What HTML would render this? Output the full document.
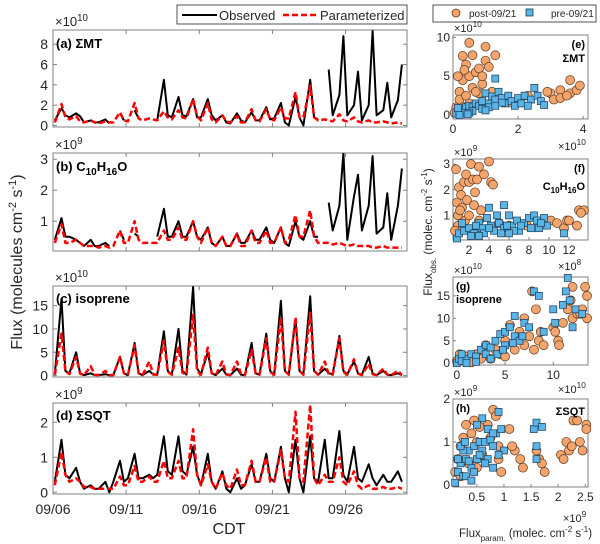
<!DOCTYPE html>
<html><head><meta charset="utf-8"><style>
html,body{margin:0;padding:0;background:#fff;width:600px;height:544px;overflow:hidden}
svg{display:block;font-family:"Liberation Sans",Arial,sans-serif}
</style></head><body>
<svg id="chart" width="600" height="544" viewBox="0 0 600 544"></svg>
<script>
// ---------- DATA ----------
const dayLabels = ["09/06","09/11","09/16","09/21","09/26"];
const dayTicks = [0,5,10,15,20];
const sampleFrac = [0.12,0.58,0.85];
// per day: [night, midday, evening]
const mtObs = [[0.5,1.7,1.0],[0.8,1.2,0.9],[0.3,0.5,0.3],[0.3,0.6,0.2],[null,1.2,0.5],[null,1.5,0.7],[null,null,null],[0.5,4.5,1.0],[0.8,2.8,1.0],[0.9,2.6,0.8],[0.8,2.6,1.0],[0.5,1.0,0.3],[0.2,1.2,0.5],[0.3,1.3,0.5],[0.5,1.8,0.6],[0.7,2.2,0.3],[0.0,2.8,0.8],[0.0,4.5,0.8],[0.6,null,5.5],[1.0,3.0,8.8],[1.0,2.0,5.3],[0.5,2.0,9.3],[1.0,1.5,4.2],[0.8,2.5,6.0]];
const mtPar = [[0.3,2.1,0.8],[0.6,0.9,0.4],[0.3,0.5,0.3],[0.2,0.4,0.3],[0.3,1.3,0.5],[0.4,2.2,0.7],[0.5,0.7,0.6],[0.5,1.4,0.8],[0.6,1.5,0.8],[0.7,2.6,0.9],[0.5,2.2,0.6],[0.3,1.0,0.4],[0.3,0.9,0.3],[0.3,1.6,0.5],[0.4,1.6,0.6],[0.5,1.8,0.7],[0.7,3.3,0.8],[0.8,3.9,0.8],[0.5,0.6,0.5],[0.4,1.1,0.5],[0.4,0.8,0.4],[0.3,0.5,0.3],[0.3,0.4,0.3],[0.2,0.3,0.2]];
const cObs = [[0.4,1.1,0.5],[0.5,0.4,0.3],[0.2,0.4,0.2],[0.2,0.3,0.2],[null,0.7,0.4],[null,0.6,0.5],[null,null,null],[0.5,1.4,0.5],[0.5,1.0,0.5],[0.5,1.0,0.5],[0.4,0.8,0.3],[0.2,0.5,0.2],[0.2,0.6,0.3],[0.3,0.7,0.4],[0.4,0.8,0.4],[0.3,0.8,0.3],[0.2,1.0,0.5],[0.4,1.0,0.5],[0.5,null,1.6],[0.7,1.5,3.2],[0.4,1.8,2.5],[0.7,1.5,3.1],[0.6,0.8,1.9],[0.4,1.5,2.7]];
const cPar = [[0.3,0.9,0.3],[0.3,0.4,0.3],[0.2,0.2,0.2],[0.15,0.2,0.15],[0.2,0.7,0.3],[0.3,1.0,0.4],[0.3,0.3,0.3],[0.3,0.7,0.4],[0.4,0.8,0.4],[0.4,1.0,0.5],[0.3,0.8,0.3],[0.2,0.5,0.2],[0.2,0.6,0.2],[0.2,0.7,0.3],[0.3,0.7,0.3],[0.3,0.8,0.3],[0.4,1.2,0.5],[0.5,1.35,0.5],[0.3,0.3,0.3],[0.25,0.3,0.25],[0.2,0.25,0.2],[0.2,0.2,0.15],[0.15,0.2,0.15],[0.15,0.15,0.15]];
const isoObs = [[0.2,16.5,1.0],[0.5,5.0,0.5],[0.1,0.5,0.1],[0.1,0.3,0.1],[0.1,4.0,0.5],[0.1,7.0,0.5],[0.1,1.0,0.2],[0.2,9.5,1.0],[0.2,10.0,1.0],[0.2,19.0,1.5],[0.3,5.0,0.5],[0.1,1.5,0.2],[0.1,1.5,0.2],[0.1,7.0,0.5],[0.2,9.0,1.0],[0.2,16.0,1.0],[0.2,12.0,1.0],[0.3,17.0,1.0],[0.2,1.5,0.5],[0.3,8.5,1.0],[0.3,3.0,0.5],[0.2,4.0,0.5],[0.1,1.0,0.2],[0.1,0.5,0.1]];
const isoPar = [[0.2,9.0,1.0],[0.3,4.0,0.4],[0.1,2.0,0.2],[0.1,1.0,0.1],[0.1,4.0,0.5],[0.1,6.5,0.5],[0.1,3.0,0.3],[0.2,7.5,0.8],[0.2,6.0,0.6],[0.2,13.0,1.0],[0.2,6.0,0.5],[0.1,3.0,0.3],[0.1,3.0,0.3],[0.1,5.5,0.5],[0.2,8.0,0.8],[0.2,12.5,1.0],[0.2,12.5,1.0],[0.2,13.5,1.0],[0.2,3.0,0.3],[0.2,8.0,0.8],[0.2,3.5,0.4],[0.1,2.5,0.3],[0.1,1.5,0.2],[0.1,1.0,0.1]];
const sqtObs = [[0.3,1.5,0.5],[0.4,0.7,0.3],[0.1,0.2,0.1],[0.1,0.3,0.0],[0.3,0.9,0.3],[0.4,1.1,0.4],[0.4,0.5,0.4],[0.5,1.6,0.6],[0.5,1.6,0.6],[0.5,1.3,0.5],[0.2,1.1,0.3],[0.1,0.6,0.1],[0.0,0.4,0.1],[0.2,0.8,0.3],[0.3,1.1,0.4],[0.3,1.3,0.4],[0.0,1.5,0.4],[0.0,1.6,0.4],[0.3,1.5,0.4],[0.4,1.75,0.5],[0.3,1.3,0.4],[0.3,0.8,0.4],[0.2,0.5,0.3],[0.3,0.6,0.3]];
const sqtPar = [[0.2,1.15,0.5],[0.3,0.4,0.3],[0.15,0.15,0.1],[0.1,0.1,0.1],[0.1,0.45,0.2],[0.2,0.75,0.3],[0.3,0.45,0.3],[0.3,0.9,0.4],[0.4,0.9,0.4],[0.4,1.8,0.5],[0.2,0.8,0.3],[0.1,0.55,0.2],[0.1,0.65,0.2],[0.2,0.9,0.3],[0.3,1.0,0.3],[0.3,1.2,0.4],[0.3,2.3,0.4],[0.3,2.5,0.4],[0.2,0.5,0.3],[0.3,1.0,0.3],[0.2,0.6,0.2],[0.1,0.2,0.1],[0.1,0.15,0.1],[0.1,0.15,0.1]];

const ePost = [[0.1,1],[0.2,3],[0.3,4.5],[0.3,7.6],[0.4,6.5],[0.5,9.3],[0.5,5],[0.6,7.7],[0.7,5.5],[0.8,6],[0.9,4],[1.0,8.8],[1.0,7],[1.1,6.2],[1.3,7.7],[0.2,2],[0.4,2.5],[0.6,3.5],[0.8,2.8],[0.15,5],[0.35,5.8],[0.7,3],[0.9,5],[1.2,3],[0.5,1.5],[0.3,1],[1.5,2],[2.3,2.5],[3.0,2.8],[3.1,2],[3.3,3.2],[3.3,2.2],[3.6,4.5],[3.6,2.8],[3.8,3.2],[3.9,3.8],[3.5,2.5],[2.9,3],[0.05,0.3],[1.8,1.6]];
const ePre = [[0.1,0.2],[0.2,0.5],[0.3,0.8],[0.4,1],[0.5,1.2],[0.6,1],[0.7,1.5],[0.8,1.2],[0.9,1.8],[1.0,2.8],[1.1,1.5],[1.2,2.4],[1.3,4.7],[1.3,2],[1.4,3],[1.5,2.2],[1.6,1.5],[1.7,2.5],[1.8,1.8],[2.0,2.2],[2.2,2.5],[2.4,2],[2.5,3.5],[2.6,2.5],[2.7,1.8],[2.8,1.3],[0.3,0.3],[0.6,0.5],[1.1,1],[1.5,1.6],[1.9,1.2],[0.2,0],[0.5,0.3],[0.9,0.8],[1.3,1.2],[2.1,1.5],[2.3,1.2],[1.0,0.6],[0.15,0.9],[0.45,0.1]];
const fPost = [[0.7,2.8],[0.8,1.5],[0.9,1.0],[1.0,2.1],[1.2,1.8],[1.3,1.3],[1.5,2.3],[1.6,0.8],[1.8,1.6],[2.0,2.3],[2.2,3.0],[2.4,2.4],[2.6,1.9],[2.8,2.4],[3.0,2.9],[3.2,1.2],[3.5,2.6],[4.0,3.1],[4.2,2.3],[4.4,2.2],[0.9,0.6],[1.4,0.5],[2.0,1.0],[2.5,1.4],[1.1,1.2],[0.6,0.4],[3.0,0.8],[5.0,0.7],[6.0,0.6],[7.8,0.6],[10.2,0.8],[10.8,0.7],[11.5,0.5],[11.8,0.8],[12.0,0.8],[12.8,0.6],[13.0,1.2],[13.5,1.2],[13.2,1.1],[1.7,2.6]];
const fPre = [[0.8,0.1],[1.0,0.3],[1.5,0.4],[2.0,0.5],[2.5,0.3],[3.0,0.7],[3.3,0.5],[3.8,0.9],[4.0,1.3],[4.2,0.6],[4.5,0.4],[5.0,0.7],[5.5,1.4],[5.5,0.5],[6.0,1.0],[6.3,0.6],[6.8,0.8],[7.0,0.4],[7.5,0.7],[8.0,0.9],[8.5,1.0],[8.8,0.8],[9.0,0.5],[9.5,0.9],[9.8,0.6],[9.2,0.7],[11.5,0.3],[2.2,0.2],[3.5,0.3],[5.2,0.3],[6.5,0.4],[1.3,0.7],[2.7,0.6],[4.8,1.0],[7.2,0.6],[8.2,0.5],[6.0,0.3],[3.0,0.2],[5.8,0.6],[4.0,0.5]];
const gPost = [[0,0.5],[0.5,1],[1,1.5],[2,2],[3,4],[4,3],[4.5,2],[5,5],[5.5,8.5],[6,3],[7,10],[7.5,6],[7.8,16],[8.2,12],[8.5,5],[8.7,7],[9,4],[10,8],[10.2,7],[10.5,5],[10.6,4],[11,9],[11.5,12],[12,10],[12,17],[12.5,11],[12.8,11],[13.3,17],[13.5,15],[13.5,10],[13,12],[6.5,7],[2.5,1],[1.5,0.2],[8,3],[11.8,14],[0.3,2],[3.5,1],[5,1.5],[7,4]];
const gPre = [[0,0],[0.2,1],[0.5,0.5],[1,1],[1.5,2],[2,1.5],[2.5,3],[3,2],[3,4],[3.5,3.5],[4,5],[4.2,2],[4.5,6.5],[5,4],[5,7],[5.5,8],[6,6],[6,10.5],[6.5,5],[7,9],[7.5,8],[8,16],[8.5,15],[9,7],[10,12],[10.2,9],[11,13],[11.3,16],[11.5,19],[11.7,14],[12,8],[12.3,12],[13,11],[3.5,1],[2,0.3],[4.8,3],[5.8,4.5],[6.8,6],[1,0],[0.5,2]];
const hPost = [[0.1,0.3],[0.15,0.6],[0.2,0.9],[0.25,1.1],[0.3,1.4],[0.35,0.5],[0.4,1.2],[0.45,1.5],[0.5,1.0],[0.55,1.35],[0.6,0.7],[0.7,1.4],[0.75,1.1],[0.8,1.75],[0.85,1.6],[0.9,0.6],[0.95,0.3],[1.1,1.3],[1.2,0.8],[1.3,0.6],[1.35,0.4],[1.6,0.8],[1.65,0.6],[1.7,0.5],[1.75,0.3],[2.05,0.7],[2.1,0.6],[2.15,1.0],[2.2,0.8],[2.25,0.9],[2.28,1.5],[2.35,1.5],[2.4,1.0],[2.45,0.8],[2.52,1.4],[2.52,1.3],[0.2,0.2],[0.5,0.4],[0.9,0.9],[1.15,0.9]];
const hPre = [[0.1,0.05],[0.15,0.3],[0.2,0.5],[0.25,0.2],[0.3,0.6],[0.35,0.8],[0.4,0.4],[0.45,0.9],[0.5,0.6],[0.55,1.0],[0.6,0.8],[0.65,1.0],[0.7,0.6],[0.75,1.05],[0.8,0.9],[0.85,1.2],[0.9,1.7],[0.95,1.3],[1.0,0.8],[0.6,1.55],[0.5,1.4],[0.3,0.2],[0.4,0.1],[0.25,0.8],[0.2,0.9],[1.55,1.3],[1.6,1.45],[1.7,1.35],[1.6,0.9],[1.6,0.6],[0.35,0.55],[0.45,0.3],[0.65,0.5],[0.8,0.4],[0.9,0.7],[0.15,0.6],[0.7,1.3],[0.55,0.7],[0.28,1.0],[0.8,1.2]];

// ---------- DRAW ----------
const NS="http://www.w3.org/2000/svg";
const svg=document.getElementById('chart');
function mk(tag,attrs,parent){const e=document.createElementNS(NS,tag);for(const k in attrs)e.setAttribute(k,attrs[k]);(parent||svg).appendChild(e);return e;}
function txt(x,y,s,size,anchor,parent,weight){const t=mk('text',{x:x,y:y,'font-size':size,'text-anchor':anchor||'middle',fill:'#262626'},parent);if(weight)t.setAttribute('font-weight',weight);t.textContent=s;return t;}

function axesBox(name,x0,x1,y0,y1){
  const g=mk('g',{});
  
  
  mk('rect',{x:x0,y:y0,width:x1-x0,height:y1-y0,fill:'#fff',stroke:'#808080','stroke-width':1},g);
  return g;
}
function expo(x,y,base,exp,g,size){
  const t=mk('text',{x:x,y:y,'font-size':size,fill:'#262626'},g);
  
  
  t.textContent='\u00d7'+base;
  const sp=mk('tspan',{dy:-5,'font-size':size*0.75},t);sp.textContent=exp;
}

const LX0=53,LX1=407,TD=24.2;
const sx=d=>LX0+(d/TD)*(LX1-LX0);
const panels=[
 {id:'a',name:'sum-mt',y0:30,y1:127,min:-0.15,max:9.4,ticks:[0,2,4,6,8],obs:mtObs,par:mtPar,exp:'10'},
 {id:'b',name:'c10h16o',y0:153,y1:251,min:0.04,max:3.2,ticks:[1,2,3],obs:cObs,par:cPar,exp:'9'},
 {id:'c',name:'isoprene',y0:286,y1:377,min:-0.3,max:19.2,ticks:[0,5,10,15],obs:isoObs,par:isoPar,exp:'10'},
 {id:'d',name:'sum-sqt',y0:403,y1:494,min:-0.05,max:2.55,ticks:[0,1,2],obs:sqtObs,par:sqtPar,exp:'9'}
];
panels.forEach(p=>{
  const g=axesBox('timeseries-panel-'+p.id,LX0,LX1,p.y0,p.y1);
  const sy=v=>p.y1-(v-p.min)/(p.max-p.min)*(p.y1-p.y0);
  const clip=mk('clipPath',{id:'clip'+p.id},g);
  mk('rect',{x:LX0,y:p.y0,width:LX1-LX0,height:p.y1-p.y0},clip);
  p.ticks.forEach(v=>{const y=sy(v);
    mk('line',{x1:LX0,x2:LX0+4,y1:y,y2:y,stroke:'#808080'},g);
    mk('line',{x1:LX1,x2:LX1-4,y1:y,y2:y,stroke:'#808080'},g);
    const t=txt(LX0-5,y+5,String(v),14,'end',g);
    
    
  });
  dayTicks.forEach((d,i)=>{const x=sx(d);
    mk('line',{x1:x,x2:x,y1:p.y1,y2:p.y1-4,stroke:'#808080'},g);
    mk('line',{x1:x,x2:x,y1:p.y0,y2:p.y0+4,stroke:'#808080'},g);
    if(p.id==='d'){const t=txt(x,514,dayLabels[i],14,'middle',g);
      
      }
  });
  expo(LX0+2,p.y0-4,'10',p.exp,g,13);
  function series(arr,color,dash,w,nm){
    let d='',pen=false;
    arr.forEach((day,i)=>day.forEach((v,j)=>{
      if(v===null){pen=false;return;}
      const x=sx(i+sampleFrac[j]),y=sy(v);
      d+=(pen?'L':'M')+x.toFixed(1)+' '+y.toFixed(1);pen=true;
    }));
    const path=mk('path',{d:d,fill:'none',stroke:color,'stroke-width':w,'stroke-linejoin':'round','clip-path':'url(#clip'+p.id+')'},g);
    if(dash)path.setAttribute('stroke-dasharray',dash);
    
    
  }
  series(p.obs,'#000',null,2,'observed-line-'+p.id);
  series(p.par,'#ff0000','6,3',2.5,'parameterized-line-'+p.id);
});
function title(x,y,parts){const t=mk('text',{x:x,y:y,'font-size':13,'font-weight':'bold',fill:'#000'});parts(t);return t;}
let t;
t=title(56,48,t=>{t.textContent='(a)  \u03a3MT';});
t=title(56,171,t=>{t.textContent='(b)  C';let s=mk('tspan',{dy:4,'font-size':10},t);s.textContent='10';s=mk('tspan',{dy:-4},t);s.textContent='H';s=mk('tspan',{dy:4,'font-size':10},t);s.textContent='16';s=mk('tspan',{dy:-4},t);s.textContent='O';});
t=title(56,303,t=>{t.textContent='(c)  isoprene';});
t=title(56,420,t=>{t.textContent='(d)  \u03a3SQT';});

t=txt(229,534,'CDT',16);
t=mk('text',{x:0,y:0,'font-size':16,'text-anchor':'middle',fill:'#262626',transform:'translate(22,262) rotate(-90)'});

t.textContent='Flux (molecules cm';let s=mk('tspan',{dy:-6,'font-size':11},t);s.textContent='-2';s=mk('tspan',{dy:6},t);s.textContent=' s';s=mk('tspan',{dy:-6,'font-size':11},t);s.textContent='-1';s=mk('tspan',{dy:6},t);s.textContent=')';

// legend left
const lg=mk('g',{});
mk('rect',{x:177,y:5,width:230,height:19,fill:'#fff',stroke:'#262626','stroke-width':0.8},lg);
mk('line',{x1:182,x2:217,y1:15,y2:15,stroke:'#000','stroke-width':2},lg);
txt(219,20,'Observed',13,'start',lg);
mk('line',{x1:283,x2:318,y1:15,y2:15,stroke:'#f00','stroke-width':2.5,'stroke-dasharray':'6,3'},lg);
txt(320,20,'Parameterized',13,'start',lg);

// legend right
const rg=mk('g',{});
mk('rect',{x:433,y:5,width:163,height:17,fill:'#fff',stroke:'#262626','stroke-width':0.8},rg);
mk('circle',{cx:456,cy:13,r:4,fill:'#f5a46c',stroke:'#5a3a20','stroke-width':0.8},rg);
txt(469,17,'post-09/21',10,'start',rg);
mk('rect',{x:526,y:9,width:7,height:7,fill:'#5ab4e6',stroke:'#1a3a55','stroke-width':0.8},rg);
txt(551,17,'pre-09/21',10,'start',rg);

// scatter panels
const RX0=453,RX1=588;
const sp=[
 {id:'e',y0:35,y1:119,xmin:0,xmax:4.15,ymin:-0.5,ymax:10.3,xt:[0,2,4],yt:[0,5,10],post:ePost,pre:ePre,yexp:'10',lab:'(e)',sub:'\u03a3MT',subY:62},
 {id:'f',y0:159,y1:240,xmin:0.4,xmax:13.9,ymin:0.04,ymax:3.2,xt:[2,4,6,8,10,12],yt:[1,2,3],post:fPost,pre:fPre,yexp:'9',lab:'(f)',sub:'C10H16O',subY:190},
 {id:'g',y0:277,y1:365,xmin:-0.4,xmax:13.6,ymin:-0.4,ymax:19.2,xt:[0,5,10],yt:[0,5,10,15],post:gPost,pre:gPre,yexp:'10',lab:'(g)',sub:'isoprene',subY:303},
 {id:'h',y0:399,y1:487,xmin:0.06,xmax:2.55,ymin:-0.05,ymax:2.0,xt:[0.5,1,1.5,2,2.5],yt:[0,1,2],post:hPost,pre:hPre,yexp:'9',lab:'(h)',sub:'\u03a3SQT',subY:415}
];
sp.forEach(p=>{
  const g=axesBox('scatter-panel-'+p.id,RX0,RX1,p.y0,p.y1);
  const X=v=>RX0+(v-p.xmin)/(p.xmax-p.xmin)*(RX1-RX0);
  const Y=v=>p.y1-(v-p.ymin)/(p.ymax-p.ymin)*(p.y1-p.y0);
  const clip=mk('clipPath',{id:'clip'+p.id},g);
  mk('rect',{x:RX0-4,y:p.y0-4,width:RX1-RX0+8,height:p.y1-p.y0+8},clip);
  p.xt.forEach(v=>{const x=X(v);mk('line',{x1:x,x2:x,y1:p.y1,y2:p.y1-3,stroke:'#808080'},g);
    const t=txt(x,p.y1+14,String(v),12,'middle',g);});
  p.yt.forEach(v=>{const y=Y(v);mk('line',{x1:RX0,x2:RX0+3,y1:y,y2:y,stroke:'#808080'},g);
    const t=txt(RX0-3,y+4,String(v),12,'end',g);});
  expo(RX0+1,p.y0-3,'10',p.yexp,g,11);
  const pg=mk('g',{'clip-path':'url(#clip'+p.id+')'},g);
  p.post.forEach(d=>{const c=mk('circle',{cx:X(d[0]),cy:Y(d[1]),r:4.5,fill:'#f5a46c',stroke:'#5a3a20','stroke-width':0.7},pg);
    });
  p.pre.forEach(d=>{const r=mk('rect',{x:X(d[0])-3.5,y:Y(d[1])-3.5,width:7,height:7,fill:'#5ab4e6',stroke:'#1a3a55','stroke-width':0.7},pg);
    });
  let lt=txt(RX1-3,p.y0+13,p.lab,11,'end',g,'bold');lt.setAttribute('fill','#000');
  if(p.id==='g'||p.id==='h'){lt.setAttribute('x',RX0+3);lt.setAttribute('text-anchor','start');}
  let st;
  if(p.id==='f'){st=mk('text',{x:RX1-3,y:p.subY,'font-size':11,'font-weight':'bold','text-anchor':'end',fill:'#000'},g);
    st.textContent='C';let a=mk('tspan',{dy:3,'font-size':8},st);a.textContent='10';a=mk('tspan',{dy:-3},st);a.textContent='H';a=mk('tspan',{dy:3,'font-size':8},st);a.textContent='16';a=mk('tspan',{dy:-3},st);a.textContent='O';}
  else{st=txt(p.id==='g'?RX0+3:RX1-3,p.subY,p.sub,11,p.id==='g'?'start':'end',g,'bold');st.setAttribute('fill','#000');}
  
});
[[558,150,'10'],[558,270,'8'],[558,393,'10'],[563,522,'9']].forEach(a=>{const g=mk('g',{});expo(a[0],a[1],'10',a[2],g,11);});

t=mk('text',{x:0,y:0,'font-size':12,'text-anchor':'middle',fill:'#262626',transform:'translate(432,232) rotate(-90)'});

t.textContent='Flux';s=mk('tspan',{dy:4,'font-size':8},t);s.textContent='obs.';s=mk('tspan',{dy:-4},t);s.textContent=' (molec. cm';s=mk('tspan',{dy:-5,'font-size':8},t);s.textContent='-2';s=mk('tspan',{dy:5},t);s.textContent=' s';s=mk('tspan',{dy:-5,'font-size':8},t);s.textContent='-1';s=mk('tspan',{dy:5},t);s.textContent=')';
t=mk('text',{x:459,y:537,'font-size':11.5,fill:'#262626'});

t.textContent='Flux';s=mk('tspan',{dy:4,'font-size':8},t);s.textContent='param.';s=mk('tspan',{dy:-4},t);s.textContent=' (molec. cm';s=mk('tspan',{dy:-5,'font-size':8},t);s.textContent='-2';s=mk('tspan',{dy:5},t);s.textContent=' s';s=mk('tspan',{dy:-5,'font-size':8},t);s.textContent='-1';s=mk('tspan',{dy:5},t);s.textContent=')';
</script>
</body></html>
